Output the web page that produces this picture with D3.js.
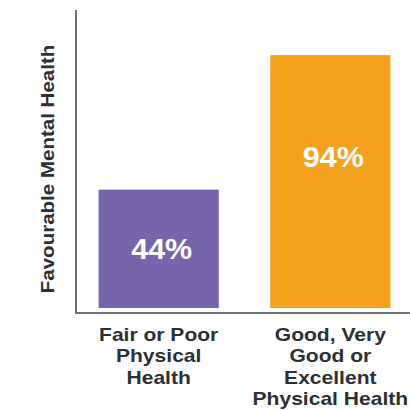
<!DOCTYPE html>
<html>
<head>
<meta charset="utf-8">
<script src="https://cdn.jsdelivr.net/npm/d3@7"></script>
<style>
  body { margin: 0; background: #fff; }
  text { font-family: "Liberation Sans", Arial, sans-serif; font-weight: bold; }
</style>
</head>
<body>
<div id="chart"></div>
<script>
var categories = ["Fair or Poor Physical Health", "Good, Very Good or Excellent Physical Health"];
var labelLines = [["Fair or Poor", "Physical", "Health"], ["Good, Very", "Good or", "Excellent", "Physical Health"]];
var values = [44, 94];
var colors = ["#7765ab", "#f4a11e"];
var yTitle = "Favourable Mental Health";

var w = 410, h = 410;
var svg = d3.select("#chart").append("svg")
    .attr("width", w).attr("height", h);

var x = d3.scaleBand()
    .domain(categories)
    .range([78, 411])
    .paddingInner(0.3)
    .paddingOuter(0.12);

var y = d3.scaleLinear().domain([0, 100]).range([308, 39]);

// bars
svg.selectAll("rect.bar")
    .data(values)
    .enter()
    .append("rect")
    .attr("class", "bar")
    .attr("x", function(d, i) { return x(categories[i]); })
    .attr("y", function(d) { return y(d); })
    .attr("width", x.bandwidth())
    .attr("height", function(d) { return y(0) - y(d); })
    .attr("fill", function(d, i) { return colors[i]; });

// value labels
svg.selectAll("text.val")
    .data(values)
    .enter()
    .append("text")
    .attr("class", "val")
    .attr("transform", function(d, i) {
        var cx = x(categories[i]) + x.bandwidth() / 2 + 3;
        var mid = (y(d) + y(0)) / 2;
        var cy = Math.min(mid, y(d) + 102) + 10;
        return "translate(" + cx + "," + cy + ") scale(1.05,1)";
    })
    .attr("text-anchor", "middle")
    .attr("fill", "#fff")
    .style("font-size", "29px")
    .text(function(d) { return d + "%"; });

// axis lines
svg.append("line")
    .attr("x1", 76).attr("x2", 76)
    .attr("y1", 10).attr("y2", 314)
    .attr("stroke", "#6b737b").attr("stroke-width", 2);
svg.append("line")
    .attr("x1", 75).attr("x2", 410)
    .attr("y1", 313).attr("y2", 313)
    .attr("stroke", "#6b737b").attr("stroke-width", 2);

// category labels
var cat = svg.selectAll("g.cat")
    .data(categories)
    .enter()
    .append("g")
    .attr("class", "cat")
    .attr("transform", function(d) {
        return "translate(" + (x(d) + x.bandwidth() / 2) + ",341) scale(1.17,1)";
    });
cat.each(function(d, i) {
    d3.select(this).selectAll("text")
        .data(labelLines[i])
        .enter()
        .append("text")
        .attr("y", function(t, j) { return j * 21.3; })
        .attr("text-anchor", "middle")
        .attr("fill", "#2b3035")
        .style("font-size", "18px")
        .text(function(t) { return t; });
});

// y title
svg.append("text")
    .attr("transform", "translate(54,169) rotate(-90) scale(1.14,1)")
    .attr("text-anchor", "middle")
    .attr("fill", "#2b3035")
    .style("font-size", "18px")
    .text(yTitle);
</script>
</body>
</html>
